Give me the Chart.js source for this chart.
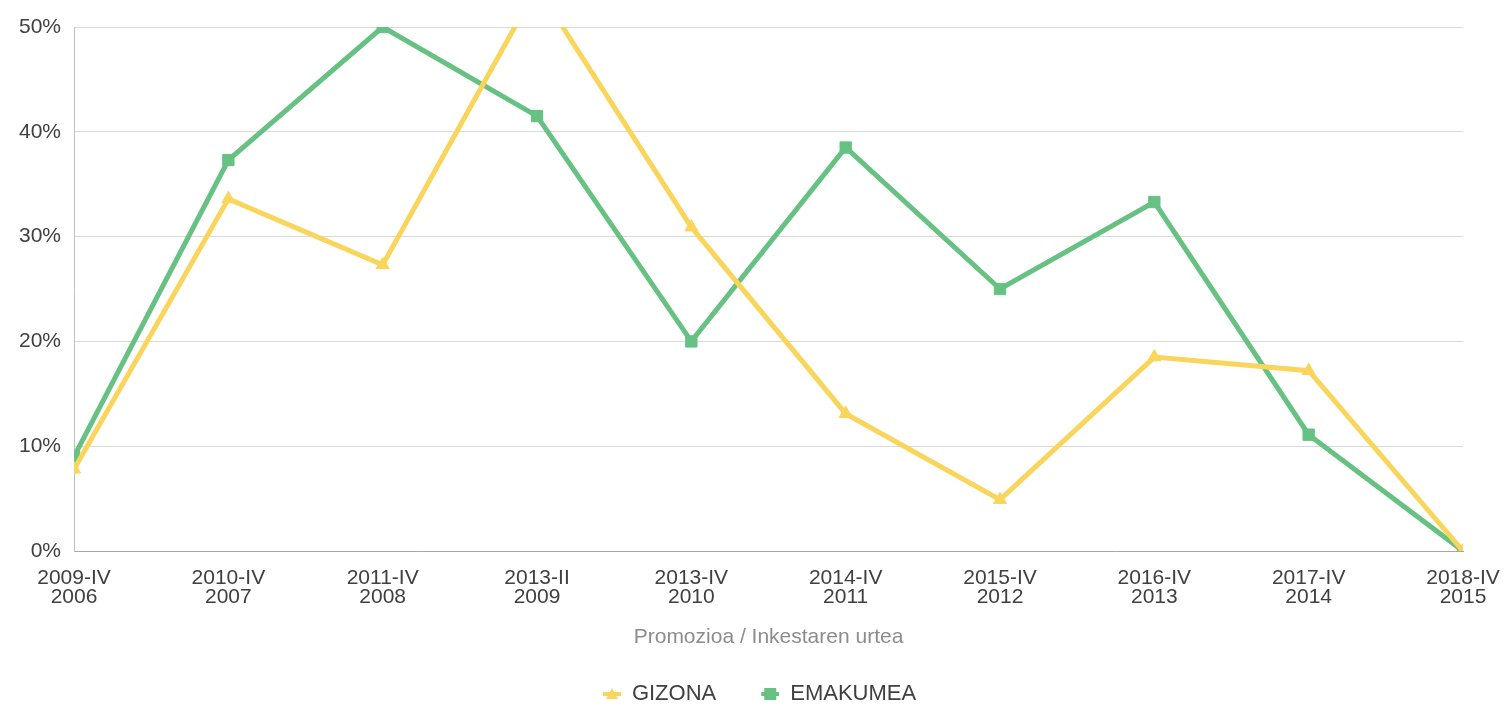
<!DOCTYPE html>
<html>
<head>
<meta charset="utf-8">
<script src="https://cdn.jsdelivr.net/npm/chart.js@4/dist/chart.umd.min.js"></script>
<style>
  html, body { margin:0; padding:0; background:#fff; }
  #wrap { width:1505px; height:715px; position:relative; }
</style>
</head>
<body>
<div id="wrap"><canvas id="chart"></canvas></div>
<script>
const categories = [
    ["2009-IV","2006"], ["2010-IV","2007"], ["2011-IV","2008"], ["2013-II","2009"],
    ["2013-IV","2010"], ["2014-IV","2011"], ["2015-IV","2012"], ["2016-IV","2013"],
    ["2017-IV","2014"], ["2018-IV","2015"]
];
const gizona = [7.8, 33.6, 27.3, 53.8, 30.9, 13.1, 4.9, 18.5, 17.2, 0];
const emakumea = [9.0, 37.3, 50.0, 41.5, 20.0, 38.5, 25.0, 33.3, 11.1, 0];
const yTicks = [0, 10, 20, 30, 40, 50];

const yellow = "#F9D55B";
const green = "#67C183";

// legend marker: short line with the point over it, blank space on the left
function legendMarker(color, shape){
    const c = document.createElement("canvas");
    c.width = 38; c.height = 14;
    const ctx = c.getContext("2d");
    ctx.fillStyle = color;
    ctx.fillRect(20, 5, 18, 4);
    ctx.beginPath();
    if(shape === "triangle"){
        ctx.moveTo(29, 1); ctx.lineTo(35, 12); ctx.lineTo(23, 12);
    } else {
        ctx.rect(23, 1, 12, 12);
    }
    ctx.closePath();
    ctx.fill();
    return c;
}

// the legend row sits a little right of centre in the original
const legendShift = {
    id: "legendShift",
    afterLayout(chart){
        chart.legend.left += 30;
    }
};

Chart.defaults.font.family = "'Liberation Sans', Arial, sans-serif";
Chart.defaults.color = "#404040";

new Chart(document.getElementById("chart"), {
    type: "line",
    plugins: [legendShift],
    data: {
        labels: categories,
        datasets: [{
            label: "GIZONA",
            data: gizona,
            borderColor: yellow,
            backgroundColor: yellow,
            borderWidth: 5,
            pointStyle: "triangle",
            pointRadius: 7.5,
            pointBorderWidth: 1,
            pointHoverRadius: 7.5,
            tension: 0,
            clip: 0
        }, {
            label: "EMAKUMEA",
            data: emakumea,
            borderColor: green,
            backgroundColor: green,
            borderWidth: 5,
            pointStyle: "rect",
            pointRadius: 8,
            pointBorderWidth: 1,
            pointHoverRadius: 8,
            tension: 0,
            clip: 0
        }]
    },
    options: {
        responsive: true,
        maintainAspectRatio: false,
        animation: false,
        layout: { padding: { top: 27, right: 42, left: 6, bottom: 0 } },
        plugins: {
            legend: {
                position: "bottom",
                labels: {
                    usePointStyle: true,
                    pointStyleWidth: 38,
                    padding: 25,
                    font: { size: 22 },
                    color: "#404040",
                    generateLabels: chart => chart.data.datasets.map((ds, i) => ({
                        text: ds.label,
                        pointStyle: legendMarker(ds.borderColor, ds.pointStyle),
                        fillStyle: ds.borderColor,
                        strokeStyle: ds.borderColor,
                        lineWidth: 0,
                        fontColor: "#404040",
                        hidden: false,
                        datasetIndex: i
                    }))
                }
            },
            tooltip: { enabled: false }
        },
        scales: {
            x: {
                offset: false,
                grid: { display: false, drawTicks: false },
                border: { color: "#a6a6a6", width: 1 },
                afterFit: axis => { axis.paddingLeft = 0; axis.paddingRight = 0; },
                ticks: {
                    font: { size: 21, lineHeight: 0.9 },
                    color: "#404040",
                    padding: 18,
                    maxRotation: 0,
                    autoSkip: false
                },
                title: {
                    display: true,
                    text: "Promozioa / Inkestaren urtea",
                    color: "#8c8c8c",
                    font: { size: 21 },
                    padding: { top: 0, bottom: 8 }
                }
            },
            y: {
                min: 0,
                max: 50,
                afterBuildTicks: axis => { axis.ticks = yTicks.map(v => ({ value: v })); },
                grid: { color: "#d9d9d9", drawTicks: false },
                border: { color: "#bfbfbf", width: 1 },
                ticks: {
                    font: { size: 21 },
                    color: "#404040",
                    padding: 13,
                    callback: v => v + "%"
                }
            }
        }
    }
});
</script>
</body>
</html>
